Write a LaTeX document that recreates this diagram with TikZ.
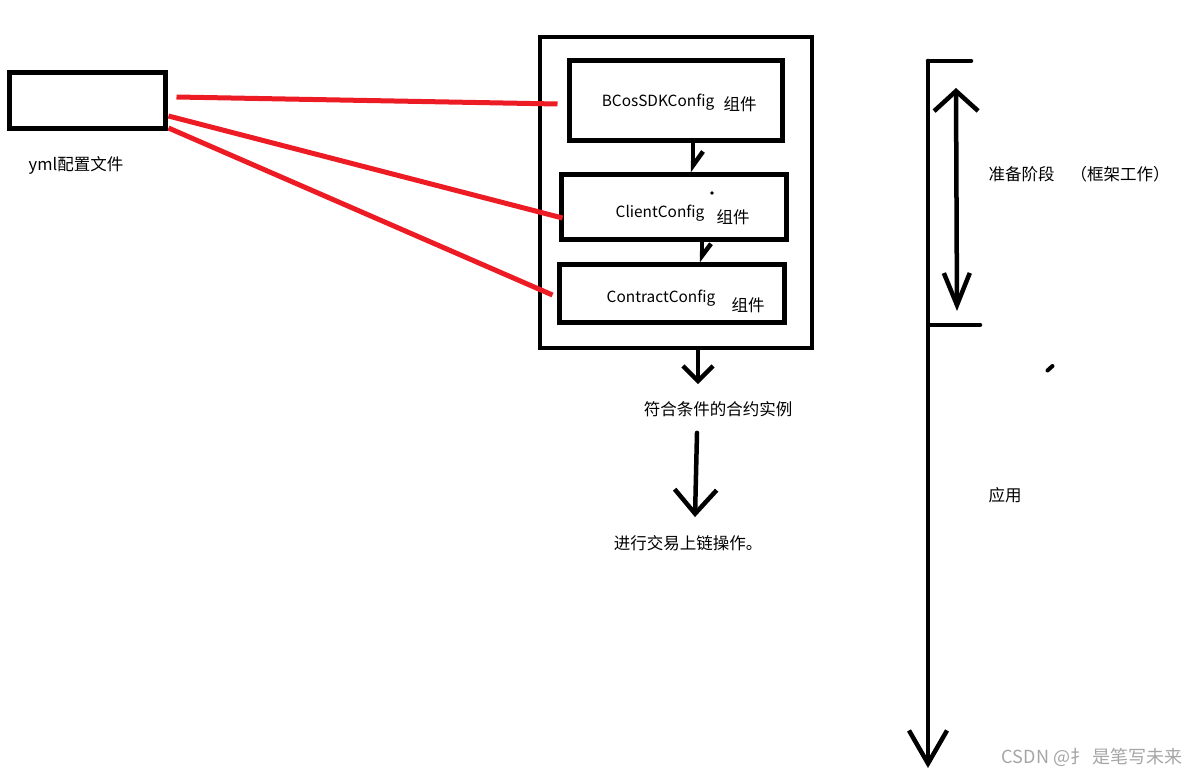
\documentclass[tikz,border=0pt]{standalone}
\usepackage{fontspec}
\setmainfont{Noto Sans CJK SC}
\usepackage{tikz}
\usetikzlibrary{arrows.meta,calc}
\definecolor{paintred}{RGB}{237,28,36}
\definecolor{markgray}{RGB}{165,165,165}

\begin{document}
\begin{tikzpicture}[x=1pt,y=-1pt,
    box/.style={draw, line width=5pt, inner sep=0pt},
    lbl/.style={inner sep=0pt, font=\fontsize{16.5}{20}\selectfont},
    cfglbl/.style={inner sep=0pt, font=\fontsize{15.4}{19}\selectfont},
    link/.style={paintred, line width=5pt},
    pen/.style={line width=4.5pt, line cap=round, line join=round}]
        \useasboundingbox (0,0) rectangle (1203,778);
        %\draw[step=50,color=gray!30] (0,0) grid (1203,778);
        \node[box, minimum width=156pt, minimum height=56pt] (yml) at (87,101) {};
        \node[lbl] (ymltxt) at (76,165) {yml配置文件};
        \node[box, line width=4pt, minimum width=272pt, minimum height=311pt] (frame) at (676,192.5) {};
        \node[box, minimum width=213pt, minimum height=80pt] (bcos) at (675.5,101) {};
        \node[box, minimum width=225pt, minimum height=65pt] (client) at (673.5,207.5) {};
        \node[box, minimum width=225pt, minimum height=58pt] (contract) at (671.5,294) {};
        \node[cfglbl] (bcostxt) at (658,102) {BCosSDKConfig};
        \node[lbl] (bcosunit) at (740,104) {组件};
        \node[cfglbl] (clienttxt) at (660,213) {ClientConfig};
        \node[lbl] (clientunit) at (733,217) {组件};
        \node[cfglbl] (contracttxt) at (661,298) {ContractConfig};
        \node[lbl] (contractunit) at (748,305) {组件};
        \node[lbl] (inst) at (718,409) {符合条件的合约实例};
        \node[lbl] (chain) at (688,543) {进行交易上链操作。};
        \node[lbl] (prep) at (1021.5,174) {准备阶段};
        \node[lbl] (prepnote) at (1120,174) {（框架工作）};
        \node[lbl] (app) at (1005,495) {应用};
        \node[inner sep=0pt, text=markgray, font=\fontsize{18}{22}\selectfont] (mark) at (1092,757) {CSDN @扌 是笔写未来};

        \draw[link] ([shift={(9,-4)}]yml.east) -- ([shift={(-9,3)}]bcos.west);
        \draw[link] ([shift={(1,15)}]yml.east) -- ([shift={(4,10.5)}]client.west);
        \draw[link] ([shift={(1,27)}]yml.east) -- ([shift={(-4,1)}]contract.west);

        \draw[pen, -{Straight Barb[left, length=14pt, width=20pt]}] ([xshift=17.5pt]bcos.south) -- ([xshift=19.5pt]client.north);
        \draw[pen, -{Straight Barb[left, length=12pt, width=18pt]}] ([xshift=28.5pt]client.south) -- ([xshift=30.5pt]contract.north);
        \draw[pen, -{Straight Barb[length=15pt, width=30pt]}] ([xshift=22pt]frame.south) -- ($(inst.north)+(-20,-17)$);
        \draw[pen, -{Straight Barb[length=24pt, width=42pt]}] ($(inst.south)+(-21,16)$) -- ($(chain.north)+(7,-18)$);

        \coordinate (top) at (928,61);
        \coordinate (mid) at (928,325);
        \coordinate (bottom) at (928,768);
        \draw[pen] (top) -- +(43,0);
        \draw[pen] (mid) ++(2,0) -- +(50,0);
        \draw[pen, -{Straight Barb[length=33pt, width=38pt]}] (top) -- (bottom);
        \draw[pen, {Straight Barb[length=20pt, width=44pt]}-{Straight Barb[length=32pt, width=26pt]}] (956,88) -- (957,311);

        \fill (712,193) circle (1.8);
        \draw[pen, line width=4pt] (1047.5,370.5) -- (1052.5,366);
    \end{tikzpicture}
\end{document}
